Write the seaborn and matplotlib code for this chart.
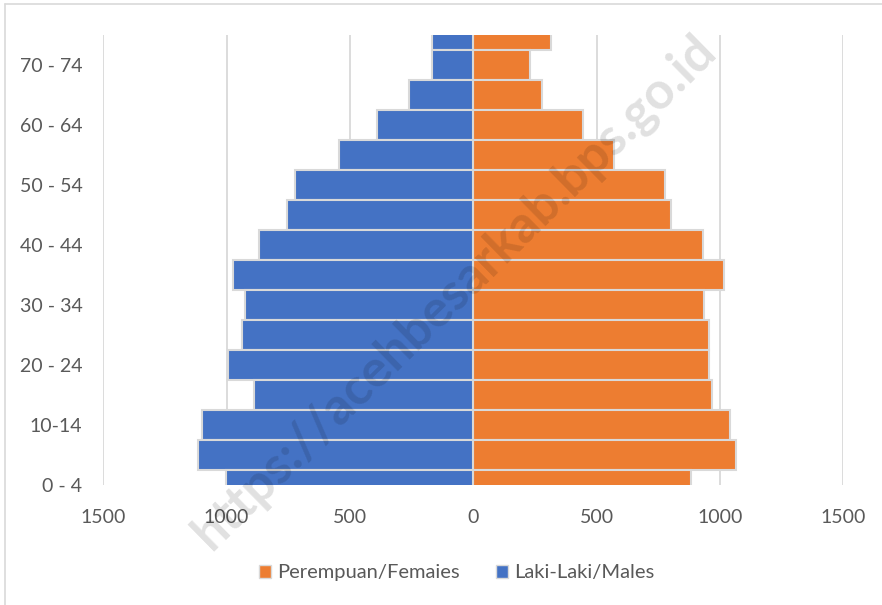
import matplotlib
matplotlib.use("Agg")
import matplotlib.pyplot as plt
import seaborn as sns
import pandas as pd
from matplotlib.patches import Patch
from matplotlib.lines import Line2D
from matplotlib.ticker import FuncFormatter

ages = ["0 - 4", "5 - 9", "10-14", "15 - 19", "20 - 24", "25 - 29", "30 - 34", "35 - 39",
        "40 - 44", "45 - 49", "50 - 54", "55 - 59", "60 - 64", "65 - 69", "70 - 74", "75+"]
males = [1002, 1115, 1099, 888, 996, 938, 924, 976, 869, 757, 722, 545, 392, 260, 166, 169]
females = [884, 1065, 1041, 967, 957, 957, 937, 1015, 930, 803, 776, 572, 443, 280, 231, 314]
female_label = "Perempuan/Femaies"
male_label = "Laki-Laki/Males"
shown_labels = ["0 - 4", "10-14", "20 - 24", "30 - 34", "40 - 44", "50 - 54", "60 - 64", "70 - 74"]
xticks = [-1500, -1000, -500, 0, 500, 1000, 1500]

df = pd.DataFrame({
    "age": ages + ages,
    "value": [-m for m in males] + females,
    "sex": [male_label] * len(ages) + [female_label] * len(ages),
})

sns.set_style("white")
plt.rcParams["font.family"] = ["Lato", "DejaVu Sans"]

fig = plt.figure(figsize=(8.82, 6.05), dpi=100)
ax = fig.add_axes([0.1171, 0.1983, 0.839, 0.7438])

order = ages[::-1]
colors = {female_label: "#ED7D31", male_label: "#4472C4"}
sns.barplot(data=df, x="value", y="age", hue="sex", order=order,
            hue_order=[female_label, male_label], palette=colors, saturation=1,
            dodge=False, width=1.0, edgecolor="#d9d9d9", linewidth=1.5,
            errorbar=None, legend=False, ax=ax, zorder=3)

ax.set_xlim(-1500, 1500)
ax.set_ylim(len(ages) - 1, 0)
ax.set_xticks(xticks)
ax.xaxis.set_major_formatter(FuncFormatter(lambda v, p: f"{abs(int(v))}"))
ax.set_yticks([order.index(a) for a in shown_labels])
ax.set_yticklabels(shown_labels)
ax.tick_params(axis="both", length=0, labelsize=14, colors="#595959")
ax.tick_params(axis="y", pad=15)
ax.tick_params(axis="x", pad=17)
ax.grid(axis="x", color="#d9d9d9", linewidth=1.3, zorder=0)
ax.grid(axis="y", visible=False)
ax.set_axisbelow(True)
for s in ax.spines.values():
    s.set_visible(False)
ax.set_xlabel("")
ax.set_ylabel("")

handles = [Patch(facecolor=colors[female_label], edgecolor="#d9d9d9", label=female_label),
           Patch(facecolor=colors[male_label], edgecolor="#d9d9d9", label=male_label)]
fig.legend(handles=handles, loc="center", bbox_to_anchor=(0.518, 0.0529), ncol=2,
           frameon=False, fontsize=14.5, labelcolor="#595959",
           handlelength=0.6, handleheight=0.6, handletextpad=0.3, columnspacing=1.8)

# chart-area border (top and left visible)
fig.add_artist(Line2D([5 / 882, 5 / 882], [0, 1 - 4 / 605], transform=fig.transFigure,
                      color="#d9d9d9", linewidth=1.2))
fig.add_artist(Line2D([5 / 882, 1], [1 - 4 / 605, 1 - 4 / 605], transform=fig.transFigure,
                      color="#d9d9d9", linewidth=1.2))

# watermark
fig.text(455 / 882, 1 - 292 / 605, "https://acehbesarkab.bps.go.id", rotation=44.5,
         ha="center", va="center", fontsize=37, fontweight="bold", color="black",
         alpha=0.12, family=["Lato", "DejaVu Sans"], zorder=10)

fig.savefig("out.png", dpi=100)
